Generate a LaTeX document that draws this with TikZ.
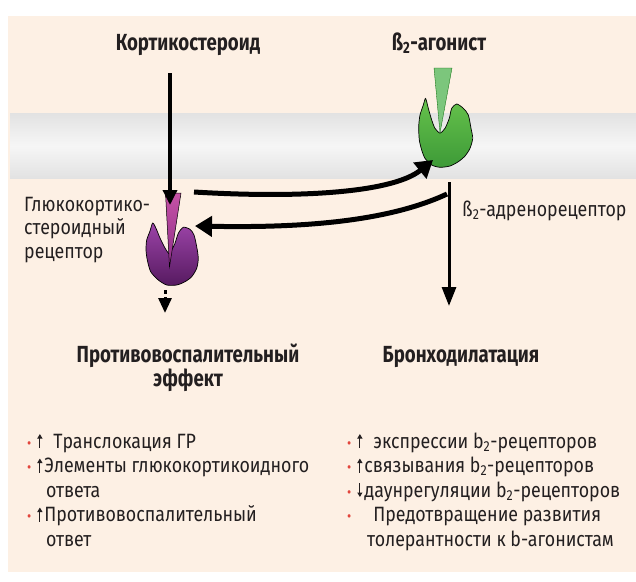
\documentclass[tikz,border=0pt]{standalone}
\usepackage{fontspec}
\setmainfont{Fira Sans}[FakeStretch=0.86]
\newfontfamily\headfont{Fira Sans}[FakeStretch=0.80]
\usetikzlibrary{arrows.meta}
\definecolor{peach}{HTML}{FDF0E4}
\definecolor{ink}{HTML}{231F20}
\definecolor{dotred}{HTML}{E2453C}
\definecolor{purpleA}{HTML}{9C44A8}
\definecolor{purpleB}{HTML}{561A60}
\definecolor{wedgeA}{HTML}{C552A6}
\definecolor{wedgeB}{HTML}{8E2E88}
\definecolor{greenA}{HTML}{66C24C}
\definecolor{greenB}{HTML}{3D9A37}
\definecolor{wedgeG}{HTML}{7CC67C}
\definecolor{memEdge}{HTML}{E2E2E2}
\definecolor{memMid}{HTML}{F6F6F6}
\tikzset{
  head/.style={inner sep=0pt, anchor=base, text=ink, font=\headfont\bfseries\fontsize{23.3}{27}\selectfont},
  txt/.style={inner sep=0pt, anchor=base west, text=ink, font=\fontsize{20.7}{24}\selectfont},
  thickarrow/.style={line width=5pt, draw=black, -{Triangle[length=17pt,width=20pt]}},
  vertarrow/.style={line width=3.4pt, draw=black, -{Triangle[length=15pt,width=14pt]}},
  receptor/.style={draw=black, line width=0.7pt},
  glyph/.style={draw=ink, line width=1pt, -{Triangle[length=4.5pt,width=5pt]}},
}
\newcommand{\rdot}{{\color{dotred}\fontsize{15}{15}\selectfont\textbullet}}
% thin up / down arrows set inline with the text
\newcommand{\up}{\tikz[baseline=0pt]\draw[glyph] (0pt,0pt) -- (0pt,14pt);}
\newcommand{\down}{\tikz[baseline=0pt]\draw[glyph] (0pt,14pt) -- (0pt,0pt);}
\newcommand{\btwo}{b\textsubscript{2}}
\begin{document}
\begin{tikzpicture}[x=1pt,y=-1pt]
\useasboundingbox (0,0) rectangle (636,581);
\fill[white] (0,0) rectangle (636,581);
% panel
\fill[peach] (8,16) rectangle (636,572);
% cell membrane: grey edges, light centre
\shade[top color=memEdge, bottom color=memMid] (10,113) rectangle (636,146);
\shade[top color=memMid, bottom color=memEdge] (10,146) rectangle (636,178);

% glucocorticoid receptor
\shade[receptor, top color=purpleA, bottom color=purpleB]
  plot[smooth cycle, tension=0.45] coordinates {
   (152.7,223) (150,231) (146.7,240) (146,250) (147.3,260) (150.7,271.7)
   (158.3,280) (166.7,285) (176.7,285) (185,281.7) (191.7,276.7) (196.7,268.3)
   (198.3,258.3) (196.7,246.7) (194,235) (190,229.3) (183.3,227.3) (178.3,233.3)
   (175,243.3) (171.7,250) (169.3,254) (165,248) (160,238) (156,228.3)};
\shade[draw=black, line width=0.5pt, top color=wedgeA, bottom color=wedgeB]
  (165.5,193) -- (181,193) -- (169.5,267) -- cycle;

% beta2 receptor
\shade[receptor, top color=greenA, bottom color=greenB]
  plot[smooth cycle, tension=0.45] coordinates {
   (425.3,98.5) (423.3,105) (420,115) (418.7,126.7) (419.3,140) (421.7,150)
   (425,158.3) (431.7,165) (440,167.3) (450,166) (458.3,161.7) (465,156)
   (470,148.3) (472.7,138.3) (471,128.3) (468.3,115) (463.3,108.3) (456.7,104)
   (451.7,108.3) (449.3,118.3) (445,128.3) (440,133) (435,128.3) (431.7,120)
   (428.3,108.3) (426.5,101)};
\fill[wedgeG, draw=green!40!black, line width=0.3pt]
  (434,68) -- (452,68) -- (440,133) -- cycle;

% labels
\node[head] (cort) at (188,50) {Кортикостероид};
\node[head] (agon) at (439,50) {ß\textsubscript{2}-агонист};
\node[txt] (gr1) at (24,211) {Глюкокортико-};
\node[txt] (gr2) at (24,234.5) {стероидный};
\node[txt] (gr3) at (24,258) {рецептор};
\node[txt] (adr) at (462,216) {ß\textsubscript{2}-адренорецептор};
\node[head] (eff1) at (188,362) {Противовоспалительный};
\node[head] (eff2) at (188,386) {эффект};
\node[head] (bron) at (461,362) {Бронходилатация};

% anchor points of the connectors
\coordinate (cortS) at (170,73);
\coordinate (grTop) at (170,205);
\coordinate (grOut) at (194,192);
\coordinate (b2In) at (433,160);
\coordinate (b2Out) at (447,194);
\coordinate (grIn) at (195,226);
\coordinate (b2S) at (449,182);
\coordinate (bronT) at (449,306);
\coordinate (grS) at (165,290);
\coordinate (grT) at (165,313);

% connectors
\draw[vertarrow] (cortS) -- (grTop);
\draw[thickarrow] (grOut) .. controls (310,199) and (395,191) .. (b2In);
\draw[thickarrow] (b2Out) .. controls (387,222) and (300,228) .. (grIn);
\draw[line width=3pt, -{Triangle[length=19pt,width=14pt]}] (b2S) -- (bronT);
\draw[line width=3pt, dash pattern=on 4pt off 3pt, -{Triangle[length=15pt,width=13pt]}] (grS) -- (grT);

% consequences
\node[txt] (l1) at (27,448) {\rdot\hspace{6pt}\up\hspace{11pt}Транслокация ГР};
\node[txt] (l2) at (27,472.5) {\rdot\hspace{6pt}\up\hspace{2pt}Элементы глюкокортикоидного};
\node[txt] (l3) at (46,497) {ответа};
\node[txt] (l4) at (27,521.5) {\rdot\hspace{6pt}\up\hspace{2pt}Противовоспалительный};
\node[txt] (l5) at (46,546) {ответ};

\node[txt] (r1) at (347,448) {\rdot\hspace{6pt}\up\hspace{11pt}экспрессии \btwo-рецепторов};
\node[txt] (r2) at (347,472.5) {\rdot\hspace{6pt}\up\hspace{2pt}связывания \btwo-рецепторов};
\node[txt] (r3) at (347,497) {\rdot\hspace{6pt}\down\hspace{2pt}даунрегуляции \btwo-рецепторов};
\node[txt] (r4) at (347,521.5) {\rdot\hspace{22pt}Предотвращение развития};
\node[txt] (r5) at (367,546) {толерантности к b-агонистам};
\end{tikzpicture}
\end{document}
